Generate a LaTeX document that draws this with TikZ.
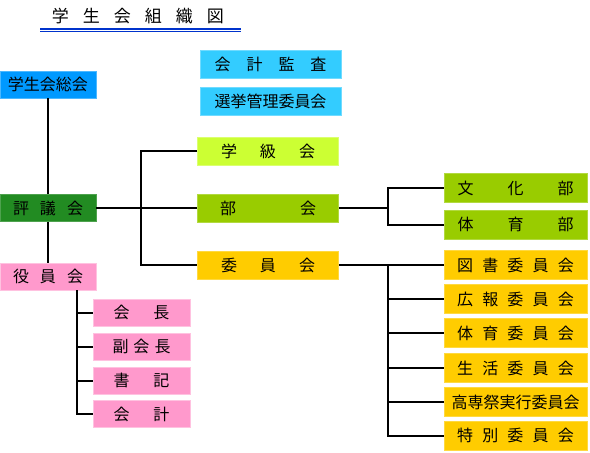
\documentclass[tikz,border=0pt]{standalone}
\usepackage{fontspec}
\setmainfont{Noto Sans CJK JP}
\definecolor{cSoukai}{HTML}{0099FF}
\definecolor{cKansa}{HTML}{33CCFF}
\definecolor{cGakkyu}{HTML}{CCFF33}
\definecolor{cBu}{HTML}{99CC00}
\definecolor{cIin}{HTML}{FFCC00}
\definecolor{cHyogi}{HTML}{228B22}
\definecolor{cYaku}{HTML}{FF99CC}
\definecolor{cTitle}{HTML}{0033CC}
\tikzset{
  base/.style={inner sep=0pt, text=black, line width=0.8pt,
    font=\fontsize{16pt}{18pt}\selectfont},
  lbox/.style={base, minimum width=96pt, minimum height=27pt},
  mbox/.style={base, minimum width=141pt, minimum height=28pt},
  rbox/.style={base, minimum width=143pt, minimum height=29pt},
  ybox/.style={base, minimum width=97pt, minimum height=27pt},
  soukai/.style={fill=cSoukai, draw=cSoukai!70!white},
  kansa/.style={fill=cKansa, draw=cKansa!70!white},
  gakkyu/.style={fill=cGakkyu, draw=cGakkyu!70!white},
  bu/.style={fill=cBu, draw=cBu!75!white},
  iin/.style={fill=cIin, draw=cIin!75!white},
  hyogi/.style={fill=cHyogi, draw=cHyogi!80!white},
  yaku/.style={fill=cYaku, draw=cYaku!60!white},
  conn/.style={line width=2pt, black},
  titleline/.style={line width=1.1pt, cTitle}
}
\begin{document}
\begin{tikzpicture}[x=1pt, y=-1pt]
\useasboundingbox (0,0) rectangle (590,453);
% title
\node[inner sep=0pt, font=\fontsize{17pt}{19pt}\selectfont] (title) at (138,16)
  {\makebox[172pt]{学\hfill 生\hfill 会\hfill 組\hfill 織\hfill 図}};
\coordinate (tl1) at (40,29);
\coordinate (tr1) at (241,29);
\coordinate (tl2) at (40,31.5);
\coordinate (tr2) at (241,31.5);
\draw[titleline] (tl1) -- (tr1);
\draw[titleline] (tl2) -- (tr2);
% left column
\node[lbox, soukai] (soukai) at (48,84.5) {学生会総会};
\node[lbox, hyogi] (hyogi) at (48,208) {\makebox[70pt]{評\hfill 議\hfill 会}};
\node[lbox, yaku] (yakuin) at (48,276.5) {\makebox[70pt]{役\hfill 員\hfill 会}};
% officers
\node[ybox, yaku] (kaicho) at (141.5,312.5) {\makebox[56pt]{会\hfill 長}};
\node[ybox, yaku] (fuku) at (141.5,346.5) {\makebox[58pt]{副\hfill 会\hfill 長}};
\node[ybox, yaku] (shoki) at (141.5,380.5) {\makebox[56pt]{書\hfill 記}};
\node[ybox, yaku] (kaikei) at (141.5,414) {\makebox[56pt]{会\hfill 計}};
% middle column
\node[mbox, kansa] (kansa) at (270.5,64) {\makebox[112pt]{会\hfill 計\hfill 監\hfill 査}};
\node[mbox, kansa] (senkyo) at (270.5,101) {選挙管理委員会};
\node[mbox, gakkyu] (gakkyu) at (268,151) {\makebox[94pt]{学\hfill 級\hfill 会}};
\node[mbox, bu] (bukai) at (268,208) {\makebox[96pt]{部\hfill 会}};
\node[mbox, iin] (iinkai) at (268,265) {\makebox[94pt]{委\hfill 員\hfill 会}};
% right column
\node[rbox, bu] (bunka) at (515.5,188) {\makebox[116pt]{文\hfill 化\hfill 部}};
\node[rbox, bu] (taiiku) at (515.5,224.5) {\makebox[116pt]{体\hfill 育\hfill 部}};
\node[rbox, iin] (tosho) at (515.5,265) {\makebox[117pt]{図\hfill 書\hfill 委\hfill 員\hfill 会}};
\node[rbox, iin] (kouhou) at (515.5,299) {\makebox[117pt]{広\hfill 報\hfill 委\hfill 員\hfill 会}};
\node[rbox, iin] (taiin) at (515.5,333) {\makebox[117pt]{体\hfill 育\hfill 委\hfill 員\hfill 会}};
\node[rbox, iin] (seikatsu) at (515.5,368) {\makebox[117pt]{生\hfill 活\hfill 委\hfill 員\hfill 会}};
\node[rbox, iin] (kousen) at (515.5,402) {高専祭実行委員会};
\node[rbox, iin] (tokubetsu) at (515.5,435.5) {\makebox[117pt]{特\hfill 別\hfill 委\hfill 員\hfill 会}};
% junctions
\coordinate (j1) at (141,208);
\coordinate (j2) at (388,208);
\coordinate (j3) at (388,265);
\coordinate (j4) at (77,290);
% connectors
\draw[conn] (soukai.south) -- (hyogi.north);
\draw[conn] (hyogi.south) -- (yakuin.north);
\draw[conn] (hyogi.east) -- (bukai.west);
\draw[conn] (gakkyu.west) -| (j1) |- (iinkai.west);
\draw[conn] (bukai.east) -- (j2);
\draw[conn] (bunka.west) -| (j2) |- (taiiku.west);
\draw[conn] (iinkai.east) -- (tosho.west);
\draw[conn] (j3) |- (tokubetsu.west);
\draw[conn] (kouhou.west) -- (kouhou.west -| j3);
\draw[conn] (taiin.west) -- (taiin.west -| j3);
\draw[conn] (seikatsu.west) -- (seikatsu.west -| j3);
\draw[conn] (kousen.west) -- (kousen.west -| j3);
\draw[conn] (j4) |- (kaikei.west);
\draw[conn] (kaicho.west) -- (kaicho.west -| j4);
\draw[conn] (fuku.west) -- (fuku.west -| j4);
\draw[conn] (shoki.west) -- (shoki.west -| j4);
\end{tikzpicture}
\end{document}
